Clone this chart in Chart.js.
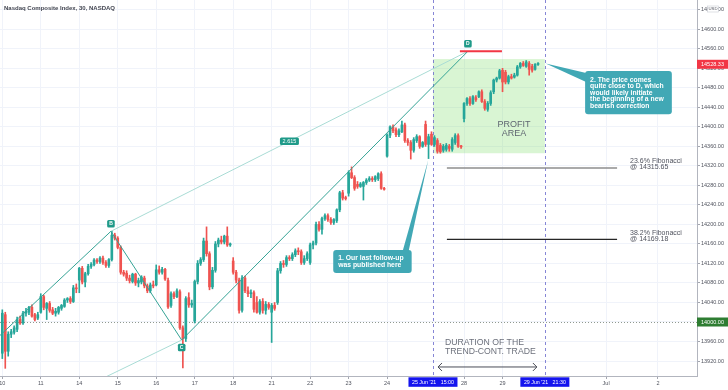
<!DOCTYPE html>
<html lang="en">
<head>
<meta charset="UTF-8">
<title>Nasdaq Composite Index, 30, NASDAQ</title>
<script src="https://cdn.jsdelivr.net/npm/chart.js"></script>
<style>
  html, body { margin: 0; padding: 0; background: #ffffff; }
  #wrap { position: relative; width: 728px; height: 390px; }
</style>
</head>
<body>
<div id="wrap"><canvas id="myChart" width="728" height="390"></canvas></div>
<script>
// 30 min candles, 13 per session, x = bar index (0 = 10 Jun 09:30)
const open = [13936,14015,13940,13975,13979,13985,14005,13998,14018,14020,14030,14015,14008,
  14020,14052,14028,14038,14025,14018,14020,14028,14032,14045,14048,14042,14070,
  14086,14110,14082,14099,14114,14118,14127,14124,14131,14122,14116,14128,14178,
  14172,14153,14102,14100,14090,14083,14098,14080,14082,14090,14074,14064,14076,
  14076,14107,14102,14108,14085,14034,14058,14052,14062,13988,13966,14050,14035,
  14002,14083,14120,14128,14166,14140,14072,14106,14160,14168,14164,14176,14158,
  14125,14102,14086,14024,14090,14064,14058,14060,14040,14020,14042,14024,14036,
  14020,14034,14040,14105,14120,14118,14132,14130,14138,14146,14144,14122,14130,
  14122,14158,14162,14200,14190,14212,14218,14210,14204,14208,14230,14265,14254,
  14264,14306,14296,14282,14278,14278,14286,14291,14294,14292,14294,14304,14274,
  14340,14383,14400,14394,14384,14390,14404,14372,14368,14352,14372,14380,14360,
  14405,14364,14385,14364,14372,14362,14352,14354,14360,14354,14368,14382,14360,
  14417,14448,14458,14448,14460,14462,14472,14452,14436,14448,14472,14496,14500,
  14516,14512,14492,14503,14502,14506,14523,14530,14524,14530,14524,14518,14528];
const high = [14025,14020,13980,13985,13992,14010,14012,14022,14028,14032,14035,14018,14020,
  14058,14055,14040,14042,14030,14028,14032,14036,14048,14050,14052,14075,14078,
  14112,14114,14102,14118,14122,14130,14130,14134,14135,14126,14130,14186,14182,
  14175,14156,14106,14105,14096,14100,14100,14090,14095,14094,14078,14080,14084,
  14117,14115,14112,14110,14090,14062,14062,14068,14066,13992,14052,14060,14045,
  14086,14126,14132,14172,14195,14144,14112,14165,14172,14176,14178,14195,14162,
  14132,14106,14090,14095,14094,14072,14066,14064,14052,14046,14048,14042,14040,
  14038,14040,14110,14124,14126,14136,14136,14142,14150,14152,14148,14136,14144,
  14162,14166,14205,14206,14215,14222,14222,14214,14212,14232,14268,14270,14258,
  14310,14318,14300,14288,14286,14288,14294,14298,14298,14300,14306,14308,14276,
  14386,14402,14404,14398,14396,14412,14408,14376,14372,14378,14384,14382,14370,
  14412,14385,14390,14382,14376,14366,14364,14366,14364,14378,14386,14386,14362,
  14450,14460,14462,14464,14464,14474,14476,14456,14452,14474,14498,14502,14518,
  14520,14516,14506,14508,14510,14526,14532,14534,14536,14534,14528,14530,14532];
const low = [13925,13905,13930,13968,13975,13980,13995,13995,14012,14015,14010,14002,14005,
  14018,14025,14005,14020,14015,14012,14016,14024,14030,14040,14038,14040,14060,
  14060,14078,14072,14096,14110,14115,14120,14120,14118,14112,14112,14125,14168,
  14150,14098,14094,14085,14080,14080,14075,14072,14078,14070,14060,14060,14070,
  14074,14098,14098,14085,14028,14030,14048,14050,13985,13906,13960,14030,14030,
  13998,14078,14116,14124,14135,14066,14068,14102,14154,14160,14160,14155,14155,
  14098,14080,14018,14020,14060,14052,14050,14020,14018,14016,14018,14016,14026,
  13958,14024,14036,14100,14112,14114,14126,14126,14134,14138,14118,14118,14126,
  14118,14150,14158,14186,14180,14208,14206,14200,14200,14204,14226,14250,14250,
  14258,14294,14270,14274,14276,14250,14282,14288,14288,14288,14290,14272,14270,
  14338,14378,14388,14380,14380,14388,14368,14362,14334,14348,14368,14356,14358,
  14360,14335,14362,14360,14346,14346,14348,14350,14350,14350,14364,14358,14356,
  14410,14444,14444,14446,14452,14460,14450,14434,14432,14444,14468,14492,14498,
  14472,14488,14488,14498,14500,14504,14520,14524,14522,14506,14512,14516,14526];
const close = [14018,13940,13975,13980,13988,14005,13998,14018,14022,14030,14012,14005,14015,
  14052,14030,14038,14024,14018,14022,14030,14034,14045,14048,14042,14070,14068,
  14110,14082,14099,14114,14118,14127,14124,14131,14122,14116,14128,14178,14172,
  14153,14102,14098,14090,14085,14098,14080,14085,14092,14074,14064,14076,14074,
  14107,14102,14108,14088,14031,14058,14052,14064,13988,13966,14048,14035,14038,
  14083,14120,14128,14166,14140,14072,14106,14160,14168,14164,14176,14158,14160,
  14102,14086,14024,14090,14064,14058,14060,14026,14020,14042,14024,14036,14030,
  14034,14028,14105,14120,14118,14132,14130,14138,14146,14144,14122,14130,14140,
  14158,14162,14200,14190,14212,14218,14210,14204,14210,14230,14265,14254,14253,
  14306,14296,14274,14278,14283,14286,14291,14294,14292,14298,14304,14274,14272,
  14383,14400,14392,14384,14392,14404,14372,14368,14352,14374,14380,14360,14368,
  14364,14380,14364,14378,14350,14349,14360,14362,14356,14374,14382,14360,14359,
  14448,14458,14448,14462,14456,14472,14452,14438,14448,14470,14496,14500,14515,
  14492,14492,14503,14500,14506,14523,14530,14526,14533,14518,14516,14528,14528.33];

const xTickPos = [0, 13, 26, 39, 52, 65, 78, 91, 104, 117, 130, 156, 169, 204, 221.5];
const xTickLabels = ['10', '11', '14', '15', '16', '17', '18', '21', '22', '23', '24', '28', '29', 'Jul', '2'];
const xMin = -0.78, xMax = 234.7;
const yMin = 13889.3, yMax = 14660.1;

// ABCD pattern (A lies off the left edge)
const patternX = [-70, 36.7, 60.6, 157.3];
const patternY = [13578, 14186, 13963, 14555];
const patternNames = ['A', 'B', 'C', 'D'];
const ratioText = '2.615';
const dLineX = [154.6, 168.8];

const fibLevels = [14315.65, 14169.18];
const fibNames = ['23.6% Fibonacci', '38.2% Fibonacci'];
const fibColors = ['#8e8e8e', '#262626'];
const fibX = [150.2, 207.7];

const profitX = [145.5, 183.3];
const profitY = [14346, 14539];
const tradeMarks = [145.5, 183.3];
const tradeLabels = ["25 Jun '21   15:00", "29 Jun '21   21:30"];
const arrowX = [147.2, 180.6];
const arrowY = 13907.8;

const lastPrice = 14528.33;
const roundLevel = 14000;

const note1Lines = ['1. Our last follow-up', 'was published here'];
const note1Box = [111.8, 138.3, 14147.5, 14100.4];
const note1Tip = [143.9, 14332];
const note2Lines = ['2. The price comes', 'quite close to D, which', 'would likely initiate', 'the beginning of a new', 'bearish correction'];
const note2Box = [196.9, 226.2, 14514.3, 14426];
const note2Tip = [183.6, 14530];

const UP = '#26a69a', DOWN = '#ef5350', TEAL = '#1f9a89';
const FONT = '"Liberation Sans", Arial, sans-serif';
const font = (s, b) => (b ? 'bold ' : '') + s + 'px ' + FONT;

const candleColors = open.map((o, i) => close[i] >= o ? UP : DOWN);
const bodies = open.map((o, i) => ({x: i, y: [o, close[i]]}));
const wicks = open.map((o, i) => ({x: i, y: [low[i], high[i]]}));
const pts = idx => idx.map(i => ({x: patternX[i], y: patternY[i]}));

function seg(ctx, x1, y1, x2, y2) {
    ctx.beginPath(); ctx.moveTo(x1, y1); ctx.lineTo(x2, y2); ctx.stroke();
}

function callout(ctx, x, y, box, tip, lines, tipSide) {
    const l = x.getPixelForValue(box[0]), r = x.getPixelForValue(box[1]);
    const t = y.getPixelForValue(box[2]), b = y.getPixelForValue(box[3]);
    const tx = x.getPixelForValue(tip[0]), ty = y.getPixelForValue(tip[1]);
    ctx.fillStyle = '#41a8b5';
    ctx.beginPath();
    ctx.roundRect(l, t, r - l, b - t, 3);
    ctx.fill();
    ctx.beginPath();
    ctx.moveTo(tx, ty);
    if (tipSide === 'top') { ctx.lineTo(r - 9, t + 1); ctx.lineTo(r - 3, t + 1); }
    else { ctx.lineTo(l + 1, t + 2); ctx.lineTo(l + 1, t + 11); }
    ctx.closePath();
    ctx.fill();
    ctx.fillStyle = '#ffffff';
    ctx.font = font(6.8, true);
    ctx.textAlign = 'left';
    ctx.textBaseline = 'middle';
    const lh = 6.5, mid = (t + b) / 2;
    lines.forEach((s, i) => ctx.fillText(s, l + 5, mid + (i - (lines.length - 1) / 2) * lh));
}

const overlay = {
    id: 'overlay',
    beforeDatasetsDraw(chart) {
        const {ctx, chartArea: a, scales: {x, y}} = chart;
        ctx.save();
        const x0 = x.getPixelForValue(profitX[0]), x1 = x.getPixelForValue(profitX[1]);
        const y0 = y.getPixelForValue(profitY[1]), y1 = y.getPixelForValue(profitY[0]);
        ctx.fillStyle = 'rgba(130, 222, 110, 0.3)';
        ctx.fillRect(x0, y0, x1 - x0, y1 - y0);

        ctx.lineWidth = 1;
        ctx.strokeStyle = '#8f998f';
        ctx.setLineDash([1, 2]);
        const yr = Math.round(y.getPixelForValue(roundLevel)) + 0.5;
        seg(ctx, a.left, yr, a.right, yr);

        ctx.strokeStyle = 'rgba(104, 104, 204, 0.8)';
        ctx.setLineDash([3, 3]);
        tradeMarks.forEach(v => {
            const xx = Math.round(x.getPixelForValue(v)) + 0.5;
            seg(ctx, xx, a.top, xx, a.bottom);
        });
        ctx.restore();
    },
    afterDatasetsDraw(chart) {
        const {ctx, chartArea: a, scales: {x, y}} = chart;
        ctx.save();
        ctx.beginPath();
        ctx.rect(a.left, a.top, a.right - a.left, a.bottom - a.top);
        ctx.clip();

        // fibonacci levels
        fibLevels.forEach((lv, i) => {
            const yy = y.getPixelForValue(lv);
            const xa = x.getPixelForValue(fibX[0]), xb = x.getPixelForValue(fibX[1]);
            ctx.strokeStyle = fibColors[i];
            ctx.lineWidth = i === 0 ? 1.6 : 1.2;
            seg(ctx, xa, yy, xb, yy);
            ctx.fillStyle = '#50535e';
            ctx.font = font(7);
            ctx.textAlign = 'left';
            ctx.textBaseline = 'middle';
            ctx.fillText(fibNames[i], xb + 13, yy - 6.5);
            ctx.fillText('@ ' + lv.toFixed(2), xb + 13, yy - 0.5);
        });

        // red line at D
        ctx.strokeStyle = '#f23645';
        ctx.lineWidth = 2;
        const yd = y.getPixelForValue(patternY[3]);
        seg(ctx, x.getPixelForValue(dLineX[0]), yd, x.getPixelForValue(dLineX[1]), yd);

        // pattern point labels
        ctx.textAlign = 'center';
        ctx.textBaseline = 'middle';
        patternX.forEach((px, i) => {
            const cx = x.getPixelForValue(px), cy = y.getPixelForValue(patternY[i]);
            const prev = patternY[i - 1], next = patternY[i + 1];
            const peak = (prev === undefined || patternY[i] > prev) && (next === undefined || patternY[i] > next);
            const ly = cy + (peak ? -7.5 : 7.5);
            ctx.fillStyle = TEAL;
            ctx.beginPath();
            ctx.roundRect(cx - 3.8, ly - 3.8, 7.6, 7.6, 1.5);
            ctx.fill();
            ctx.fillStyle = '#ffffff';
            ctx.font = font(5, true);
            ctx.fillText(patternNames[i], cx, ly + 0.3);
        });
        const mx = (x.getPixelForValue(patternX[1]) + x.getPixelForValue(patternX[3])) / 2;
        const my = (y.getPixelForValue(patternY[1]) + y.getPixelForValue(patternY[3])) / 2;
        ctx.fillStyle = TEAL;
        ctx.beginPath();
        ctx.roundRect(mx - 9.5, my - 3.8, 19, 7.6, 1.5);
        ctx.fill();
        ctx.fillStyle = '#ffffff';
        ctx.font = font(5.5);
        ctx.fillText(ratioText, mx, my + 0.3);

        // profit area text
        const pcx = (x.getPixelForValue(profitX[0]) + x.getPixelForValue(profitX[1])) / 2 + 25;
        const pcy = (y.getPixelForValue(profitY[0]) + y.getPixelForValue(profitY[1])) / 2;
        ctx.fillStyle = '#5f6671';
        ctx.font = font(9);
        ctx.fillText('PROFIT', pcx, pcy + 18);
        ctx.fillText('AREA', pcx, pcy + 27);

        // trade duration
        const ax0 = x.getPixelForValue(arrowX[0]), ax1 = x.getPixelForValue(arrowX[1]);
        const ay = y.getPixelForValue(arrowY);
        ctx.fillStyle = '#6d717c';
        ctx.font = font(8.7);
        ctx.textAlign = 'left';
        ctx.fillText('DURATION OF THE', ax0 + 7, ay - 24.5);
        ctx.fillText('TREND-CONT. TRADE', ax0 + 7, ay - 15);
        ctx.strokeStyle = '#4a4d57';
        ctx.lineWidth = 1;
        seg(ctx, ax0, ay, ax1, ay);
        ctx.beginPath();
        ctx.moveTo(ax0 + 4, ay - 4); ctx.lineTo(ax0, ay); ctx.lineTo(ax0 + 4, ay + 4);
        ctx.moveTo(ax1 - 4, ay - 4); ctx.lineTo(ax1, ay); ctx.lineTo(ax1 - 4, ay + 4);
        ctx.stroke();

        ctx.restore();
        ctx.save();
        callout(ctx, x, y, note1Box, note1Tip, note1Lines, 'top');
        callout(ctx, x, y, note2Box, note2Tip, note2Lines, 'left');
        ctx.restore();
    },
    afterDraw(chart) {
        const {ctx, chartArea: a, scales: {x, y}} = chart;
        ctx.save();
        ctx.textBaseline = 'middle';

        // price axis labels
        ctx.font = font(5.5);
        ctx.fillStyle = '#50535e';
        ctx.textAlign = 'left';
        y.ticks.forEach(t => ctx.fillText(t.value.toFixed(2), a.right + 4, y.getPixelForValue(t.value)));

        // time axis labels
        ctx.textAlign = 'center';
        xTickPos.forEach((v, i) => ctx.fillText(xTickLabels[i], x.getPixelForValue(v), a.bottom + 7));

        // price tags
        [[lastPrice, '#f23645'], [roundLevel, '#2e7d32']].forEach(([p, c]) => {
            const yy = y.getPixelForValue(p);
            ctx.fillStyle = c;
            ctx.fillRect(a.right, yy - 4.5, 728 - a.right, 9);
            ctx.fillStyle = '#ffffff';
            ctx.textAlign = 'left';
            ctx.fillText(p.toFixed(2), a.right + 4, yy + 0.3);
        });

        // currency tag
        ctx.fillStyle = '#ffffff';
        ctx.strokeStyle = '#c9ccd4';
        ctx.lineWidth = 0.6;
        ctx.fillRect(707.5, 6, 11, 6);
        ctx.strokeRect(707.5, 6, 11, 6);
        ctx.fillStyle = '#50535e';
        ctx.font = font(4.3);
        ctx.textAlign = 'center';
        ctx.fillText('USD', 713, 9.2);

        // selected time labels
        ctx.font = font(5.3);
        tradeMarks.forEach((v, i) => {
            const cx = x.getPixelForValue(v);
            ctx.fillStyle = '#1414ee';
            ctx.fillRect(cx - 24.5, a.bottom + 1.3, 49, 9.5);
            ctx.fillStyle = '#ffffff';
            ctx.fillText(tradeLabels[i], cx, a.bottom + 6.3);
        });

        // title
        ctx.fillStyle = '#434651';
        ctx.font = font(6, true);
        ctx.textAlign = 'left';
        ctx.fillText('Nasdaq Composite Index, 30, NASDAQ', 4, 8);
        ctx.restore();
    }
};

new Chart(document.getElementById('myChart'), {
    type: 'bar',
    data: {
        datasets: [
            {type: 'line', data: pts([0, 1, 2, 3]), borderColor: '#35a395', borderWidth: 1, pointRadius: 0, tension: 0, order: 1},
            {type: 'line', data: pts([0, 2]), borderColor: '#a9dcd5', borderWidth: 1, pointRadius: 0, tension: 0, order: 2},
            {type: 'line', data: pts([1, 3]), borderColor: '#a9dcd5', borderWidth: 1, pointRadius: 0, tension: 0, order: 2},
            {data: wicks, backgroundColor: candleColors, barThickness: 1, grouped: false, order: 4},
            {data: bodies, backgroundColor: candleColors, barThickness: 2, minBarLength: 1, grouped: false, order: 3}
        ]
    },
    options: {
        responsive: false,
        animation: false,
        devicePixelRatio: 1,
        layout: {padding: 0},
        plugins: {legend: {display: false}, tooltip: {enabled: false}},
        scales: {
            x: {
                type: 'linear',
                offset: false,
                min: xMin,
                max: xMax,
                ticks: {display: false},
                grid: {offset: false, color: '#f0f3fa', tickColor: '#a3a6af', tickLength: 3},
                border: {color: '#b2b5be'},
                afterBuildTicks: s => { s.ticks = xTickPos.map(v => ({value: v})); },
                afterFit: s => { s.height = 14; }
            },
            y: {
                type: 'linear',
                position: 'right',
                min: yMin,
                max: yMax,
                ticks: {display: false, stepSize: 40, includeBounds: false},
                grid: {color: '#f0f3fa', tickColor: '#a3a6af', tickLength: 3},
                border: {color: '#b2b5be'},
                afterFit: s => { s.width = 31; }
            }
        }
    },
    plugins: [overlay]
});
</script>
</body>
</html>
